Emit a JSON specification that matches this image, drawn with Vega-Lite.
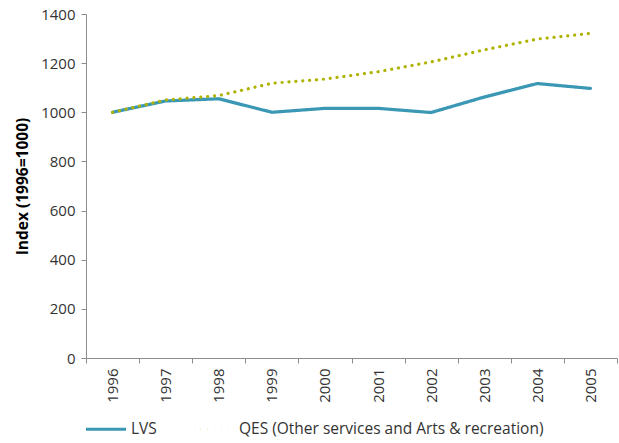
{
  "$schema": "https://vega.github.io/schema/vega-lite/v6.json",
  "autosize": "none",
  "width": 531,
  "height": 344,
  "padding": {"left": 86, "top": 14, "right": 2, "bottom": 85},
  "background": "white",
  "config": {
    "view": {"stroke": null},
    "font": "Open Sans"
  },
  "data": {
    "values": [
      {"year": "1996", "series": "LVS", "value": 1000},
      {"year": "1997", "series": "LVS", "value": 1046},
      {"year": "1998", "series": "LVS", "value": 1055},
      {"year": "1999", "series": "LVS", "value": 1000},
      {"year": "2000", "series": "LVS", "value": 1016},
      {"year": "2001", "series": "LVS", "value": 1016},
      {"year": "2002", "series": "LVS", "value": 999},
      {"year": "2003", "series": "LVS", "value": 1062},
      {"year": "2004", "series": "LVS", "value": 1117},
      {"year": "2005", "series": "LVS", "value": 1097},
      {"year": "1996", "series": "QES (Other services and Arts & recreation)", "value": 1000},
      {"year": "1997", "series": "QES (Other services and Arts & recreation)", "value": 1050},
      {"year": "1998", "series": "QES (Other services and Arts & recreation)", "value": 1068},
      {"year": "1999", "series": "QES (Other services and Arts & recreation)", "value": 1118},
      {"year": "2000", "series": "QES (Other services and Arts & recreation)", "value": 1135},
      {"year": "2001", "series": "QES (Other services and Arts & recreation)", "value": 1165},
      {"year": "2002", "series": "QES (Other services and Arts & recreation)", "value": 1205},
      {"year": "2003", "series": "QES (Other services and Arts & recreation)", "value": 1254},
      {"year": "2004", "series": "QES (Other services and Arts & recreation)", "value": 1298},
      {"year": "2005", "series": "QES (Other services and Arts & recreation)", "value": 1321}
    ]
  },
  "mark": {"type": "line", "strokeWidth": 3.2, "strokeCap": "round"},
  "encoding": {
    "x": {
      "field": "year",
      "type": "ordinal",
      "scale": {"paddingInner": 0, "paddingOuter": 0},
      "axis": {
        "title": null,
        "labelAngle": -90,
        "labelFontSize": 15,
        "labelColor": "#333333",
        "labelPadding": 5,
        "labelBaseline": "middle",
        "labelAlign": "right",
        "domainColor": "#8c8c8c",
        "tickColor": "#8c8c8c",
        "tickSize": 5,
        "tickBand": "extent",
        "grid": false
      }
    },
    "y": {
      "field": "value",
      "type": "quantitative",
      "scale": {"domain": [0, 1400], "nice": false},
      "axis": {
        "title": "Index (1996=1000)",
        "titleFontSize": 15.5,
        "titleFontWeight": "bold",
        "titleColor": "#000000",
        "titlePadding": 10,
        "format": "d",
        "values": [0, 200, 400, 600, 800, 1000, 1200, 1400],
        "labelFontSize": 15,
        "labelColor": "#333333",
        "labelPadding": 6,
        "domainColor": "#8c8c8c",
        "tickColor": "#8c8c8c",
        "tickSize": 5,
        "grid": false
      }
    },
    "color": {
      "field": "series",
      "type": "nominal",
      "scale": {"domain": ["LVS", "QES (Other services and Arts & recreation)"], "range": ["#3b98b5", "#afb300"]},
      "legend": {
        "title": null,
        "orient": "none",
        "legendX": -2,
        "legendY": 393,
        "direction": "horizontal",
        "symbolType": "stroke",
        "symbolSize": 1600,
        "symbolStrokeWidth": 3.2,
        "labelFontSize": 15.5,
        "labelColor": "#333333",
        "labelOffset": 3,
        "labelLimit": 0,
        "columnPadding": 30
      }
    },
    "strokeDash": {
      "field": "series",
      "type": "nominal",
      "scale": {"domain": ["LVS", "QES (Other services and Arts & recreation)"], "range": [[1, 0], [0.1, 6.8]]},
      "legend": null
    }
  }
}
